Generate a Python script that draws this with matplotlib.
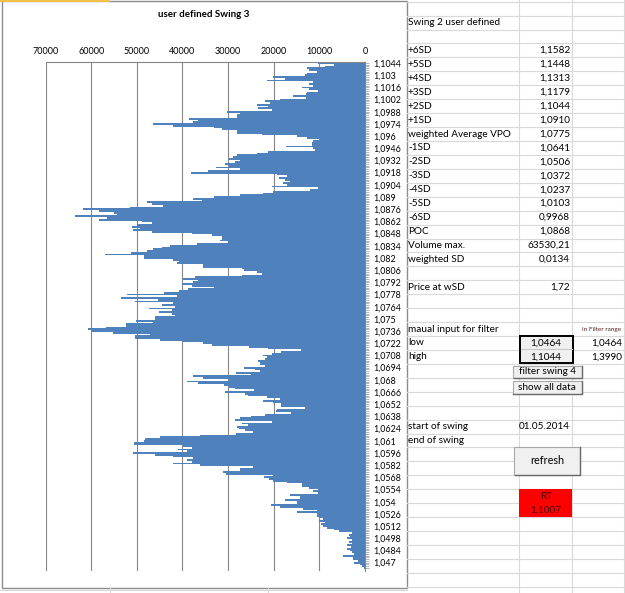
import numpy as np
import matplotlib
matplotlib.use("Agg")
import matplotlib.pyplot as plt
from matplotlib.patches import Rectangle

plt.rcParams['font.family'] = ['Lato', 'DejaVu Sans']

W, H = 625, 593

# ---------------- data ----------------
chart_title = "user defined Swing 3"
price_top = 1.1044
price_step = 0.0002
volumes = [
    10200, 6900, 8800, 12800, 12200, 10600, 12800, 13100, 20100, 17500,
    21500, 11300, 12200, 11500, 13900, 12200, 10200, 12800, 12900, 15700,
    12900, 18600, 21900, 20800, 23700, 21200, 23400, 20400, 30200, 27400,
    28100, 28100, 38500, 36500, 37600, 46500, 42000, 33200, 31400, 28000,
    28000, 22600, 15000, 12800, 9900, 11500, 11700, 11700, 17300, 11300,
    11000, 21200, 23700, 28100, 29000, 29900, 27400, 28500, 30700, 29900,
    32600, 27500, 34300, 38100, 19200, 17200, 18800, 17500, 16400, 18000,
    17200, 20400, 10200, 12000, 20100, 22400, 27400, 33200, 37600, 35800,
    47700, 46700, 44200, 51600, 61700, 58400, 55000, 54400, 63530, 56600,
    58400, 48900, 46600, 50000, 51000, 49300, 50900, 46700, 38000, 33600,
    31400, 31400, 31800, 30100, 36900, 42700, 44500, 46400, 47700, 51300,
    56900, 48500, 48500, 42000, 40700, 41200, 35400, 35400, 27000, 26600,
    23700, 22600, 27000, 37200, 39800, 36500, 37600, 40200, 38000, 33200,
    38700, 40700, 44000, 52100, 41200, 53400, 45300, 50500, 42000, 44400,
    41600, 47300, 42300, 45100, 42300, 41600, 46000, 46000, 50200, 46400,
    52300, 52300, 56700, 60800, 59900, 55300, 47100, 50400, 50400, 44900,
    40000, 35600, 33600, 25400, 21300, 14000, 18300, 20400, 22300, 21500,
    21900, 23400, 23000, 23100, 21900, 26600, 24100, 23100, 28300, 25000,
    37600, 35400, 29900, 39100, 36500, 31000, 29900, 28600, 24300, 30700,
    26300, 25600, 21500, 18600, 22300, 20100, 18500, 18500, 13100, 19300,
    19500, 16300, 21900, 25000, 27400, 28600, 20400, 27000, 25600, 28100,
    27700, 26300, 24500, 28300, 36100, 44900, 48200, 48500, 50600, 50700,
    39800, 38000, 40900, 39100, 50900, 46000, 42000, 37600, 39100, 38000,
    42000, 36100, 24500, 27400, 27400, 31200, 30400, 20100, 22100, 21000,
    20100, 17200, 13700, 13700, 12200, 10400, 11500, 10400, 16400, 14200,
    14200, 17500, 15000, 15000, 20600, 18600, 13500, 10600, 15000, 10600,
    10600, 10000, 9100, 10000, 8800, 9700, 9100, 8400, 6900, 5700,
    2900, 3400, 3300, 4000, 2900, 3600, 2900, 4000, 3100, 4000,
    3300, 2900, 2400, 4900, 2700, 2600, 1500, 2400, 1100, 700, 200,
]
price_levels = [round(price_top - price_step * i, 4) for i in range(len(volumes))]
label_every = 7
x_ticks = [0, 10000, 20000, 30000, 40000, 50000, 60000, 70000]

sheet_title = "Swing 2 user defined"
stat_labels = ["+6SD", "+5SD", "+4SD", "+3SD", "+2SD", "+1SD", "weighted Average VPO",
               "-1SD", "-2SD", "-3SD", "-4SD", "-5SD", "-6SD", "POC", "Volume max.",
               "weighted SD"]
stat_values = ["1,1582", "1,1448", "1,1313", "1,1179", "1,1044", "1,0910", "1,0775",
               "1,0641", "1,0506", "1,0372", "1,0237", "1,0103", "0,9968", "1,0868",
               "63530,21", "0,0134"]
price_wsd_label, price_wsd_value = "Price at wSD", "1,72"
filter_labels = ["maual input for filter", "low", "high"]
filter_inputs = ["1,0464", "1,1044"]
filter_range_title = "in Filter range"
filter_range_values = ["1,0464", "1,3990"]
swing_labels = ["start of swing", "end of swing"]
swing_start = "01.05.2014"
button_texts = ["filter swing 4", "show all data", "refresh"]
rt_texts = ["RT", "1,1007"]


def fmt_price(p):
    s = f"{p:.4f}".rstrip('0').rstrip('.')
    return s.replace('.', ',')


# ---------------- figure ----------------
fig = plt.figure(figsize=(W / 100, H / 100), dpi=100)
bg = fig.add_axes([0, 0, 1, 1])
bg.set_xlim(0, W)
bg.set_ylim(H, 0)
bg.axis('off')
bg.set_zorder(0)

FS = 7.2
grid_c = '#d9d9d9'
row0, rowh = 1.7, 13.93

# spreadsheet grid on the right
for k in range(44):
    y = row0 + rowh * k
    bg.plot([407, W], [y, y], color=grid_c, lw=0.8)
for x in [519, 572, 624]:
    bg.plot([x, x], [0, H], color=grid_c, lw=0.8)
# below chart
bg.plot([0, 407], [590, 590], color=grid_c, lw=0.8)
for x in [110, 268]:
    bg.plot([x, x], [588, H], color=grid_c, lw=0.8)
# chart object border
bg.add_patch(Rectangle((1.5, 1.0), 405.5, 587, fill=False, ec='#8c8c8c', lw=1.0))
bg.add_patch(Rectangle((0, 0), 110, 1.6, fc='#f3c04a', ec='none'))


def rc(r):
    return row0 + rowh * r + rowh / 2


colA, colB, colC = 408, 570, 622
bg.text(colA, rc(1), sheet_title, fontsize=FS, va='center', ha='left')
for j, (lab, val) in enumerate(zip(stat_labels, stat_values)):
    bg.text(colA, rc(3 + j), lab, fontsize=FS, va='center', ha='left')
    bg.text(colB, rc(3 + j), val, fontsize=FS, va='center', ha='right')
bg.text(colA, rc(20), price_wsd_label, fontsize=FS, va='center', ha='left')
bg.text(colB, rc(20), price_wsd_value, fontsize=FS, va='center', ha='right')

for j, lab in enumerate(filter_labels):
    bg.text(colA, rc(23 + j), lab, fontsize=FS, va='center', ha='left')
bg.text(621, rc(23), filter_range_title, fontsize=4.6, va='center', ha='right',
        color='#5c1f1f')
for j, v in enumerate(filter_range_values):
    bg.text(colC, rc(24 + j), v, fontsize=FS, va='center', ha='right')

# input box
bg.add_patch(Rectangle((519.5, 335.5), 53, 27.8, fc='#f0f0f0', ec='black', lw=1.4, zorder=3))
bg.plot([520.5, 571.5], [349.4, 349.4], color='#c8c8c8', lw=0.8, zorder=3)
for j, v in enumerate(filter_inputs):
    bg.text(546, rc(24 + j), v, fontsize=FS, va='center', ha='center', zorder=4)


def button(x0, y0, w, h, text, fs):
    bg.add_patch(Rectangle((x0, y0), w, h, fc='#f0f0f0', ec='#a8a8a8', lw=0.8, zorder=3))
    bg.plot([x0 + 0.5, x0 + w, x0 + w], [y0 + h, y0 + h, y0 + 0.5], color='#6a6a6a',
            lw=1.0, zorder=3)
    bg.text(x0 + w / 2, y0 + h / 2, text, fontsize=fs, va='center', ha='center', zorder=4)


button(513, 365.5, 69, 12.5, button_texts[0], FS)
button(512.5, 380.5, 69, 13.5, button_texts[1], FS)
button(514, 446.5, 66, 28, button_texts[2], 7.8)

for j, lab in enumerate(swing_labels):
    bg.text(colA, rc(30 + j), lab, fontsize=FS, va='center', ha='left')
bg.text(colB, rc(30), swing_start, fontsize=FS, va='center', ha='right')

bg.add_patch(Rectangle((519, 488.5), 53, 28.5, fc='#ff0000', ec='none', zorder=3))
for j, t in enumerate(rt_texts):
    bg.text(546, rc(35 + j), t, fontsize=FS, va='center', ha='center', color='#4a0000',
            zorder=4)

bg.text(204, 14.5, chart_title, fontsize=7.0, fontweight='bold', va='center', ha='center')

# ---------------- chart ----------------
left, right, top, bottom = 45.6, 365.0, 61.7, 571.0
ax = fig.add_axes([left / W, 1 - bottom / H, (right - left) / W, (bottom - top) / H])
ax.set_zorder(2)
ax.set_facecolor('none')

n = len(volumes)
idx = np.arange(n)
ax.barh(idx, volumes, height=1.0, color='#4f81bd', edgecolor='none', antialiased=False,
        zorder=2)

ax.set_xlim(70000, 0)
ax.set_ylim(n + 0.8, -0.75)
ax.set_xticks(x_ticks)
ax.set_xticklabels([str(v) for v in x_ticks])
ax.xaxis.tick_top()
ax.tick_params(axis='x', length=0, pad=4.0, labelsize=6.5)
ax.grid(axis='x', color='#868686', lw=0.8)
ax.set_axisbelow(True)

ax.yaxis.tick_right()
major = list(range(0, n, label_every))
ax.set_yticks(major)
ax.set_yticklabels([fmt_price(price_levels[i]) for i in major])
ax.set_yticks(idx, minor=True)
ax.tick_params(axis='y', which='both', length=3.0, width=0.5, color='#9a9a9a',
               pad=3.3, labelsize=6.4)

for s in ['left', 'bottom']:
    ax.spines[s].set_visible(False)
for s in ['top', 'right']:
    ax.spines[s].set_color('#868686')
    ax.spines[s].set_linewidth(0.8)

fig.savefig('out.png', dpi=100)
